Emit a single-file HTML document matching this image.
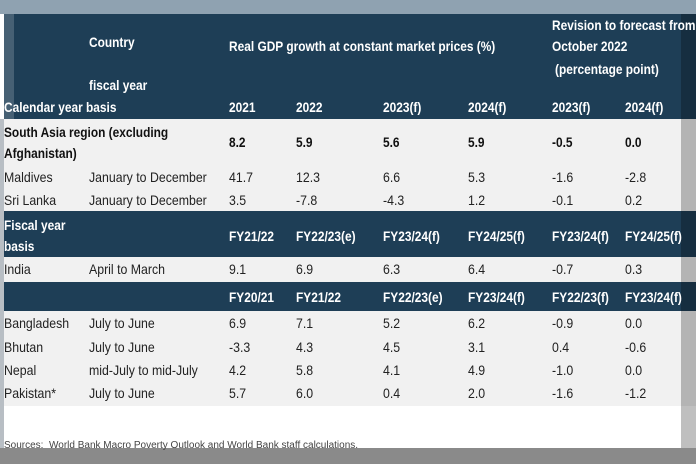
<!DOCTYPE html>
<html><head><meta charset="utf-8"><style>
body{margin:0;width:696px;height:464px;overflow:hidden;background:#fff;font-family:"Liberation Sans",sans-serif;}
.a{position:absolute;white-space:nowrap;font-size:14px;line-height:16px;color:#222;transform-origin:0 50%;transform:translateY(-50%) scaleX(0.88);}
.w{color:#fff;font-weight:bold;transform:translateY(-50%) scaleX(0.85);}
.b{font-weight:bold;color:#111;transform:translateY(-50%) scaleX(0.85);}
.r{position:absolute;}
</style></head><body>
<div class="r" style="left:0;top:0;width:696px;height:464px;background:#fff"></div>
<div class="r" style="left:4px;top:14px;width:692px;height:105px;background:#1e3e56"></div>
<div class="r" style="left:4px;top:119px;width:692px;height:287px;background:#f1f1f1"></div>
<div class="r" style="left:4px;top:211px;width:692px;height:46px;background:#1e3e56"></div>
<div class="r" style="left:4px;top:282px;width:692px;height:29px;background:#1e3e56"></div>
<div class="r" style="left:0;top:0;width:696px;height:14px;background:#8fa2b1"></div>
<div class="r" style="left:0;top:14px;width:14px;height:105px;background:rgba(255,255,255,0.18)"></div>
<div class="r" style="left:0;top:119px;width:4px;height:330px;background:#b8bec4"></div>
<div class="r" style="left:681px;top:14px;width:15px;height:435px;background:rgba(0,0,0,0.25)"></div>
<div class="r" style="left:0;top:448px;width:696px;height:16px;background:#8a8a8a"></div>

<div class="a w" style="left:89px;top:42px">Country</div>
<div class="a w" style="left:89px;top:85px">fiscal year</div>
<div class="a w" style="left:229px;top:46px">Real GDP growth at constant market prices (%)</div>
<div class="a w" style="left:552px;top:25px">Revision to forecast from</div>
<div class="a w" style="left:552px;top:46px">October 2022</div>
<div class="a w" style="left:555px;top:69px">(percentage point)</div>
<div class="a w" style="left:4px;top:107px">Calendar year basis</div>
<div class="a w" style="left:229px;top:107px">2021</div>
<div class="a w" style="left:296px;top:107px">2022</div>
<div class="a w" style="left:383px;top:107px">2023(f)</div>
<div class="a w" style="left:468px;top:107px">2024(f)</div>
<div class="a w" style="left:552px;top:107px">2023(f)</div>
<div class="a w" style="left:625px;top:107px">2024(f)</div>

<div class="a b" style="left:4px;top:132px">South Asia region (excluding</div>
<div class="a b" style="left:4px;top:153px">Afghanistan)</div>
<div class="a b" style="left:229px;top:142px">8.2</div>
<div class="a b" style="left:296px;top:142px">5.9</div>
<div class="a b" style="left:383px;top:142px">5.6</div>
<div class="a b" style="left:468px;top:142px">5.9</div>
<div class="a b" style="left:552px;top:142px">-0.5</div>
<div class="a b" style="left:625px;top:142px">0.0</div>

<div class="a" style="left:4px;top:177px">Maldives</div><div class="a" style="left:89px;top:177px">January to December</div>
<div class="a" style="left:229px;top:177px">41.7</div><div class="a" style="left:296px;top:177px">12.3</div><div class="a" style="left:383px;top:177px">6.6</div><div class="a" style="left:468px;top:177px">5.3</div><div class="a" style="left:552px;top:177px">-1.6</div><div class="a" style="left:625px;top:177px">-2.8</div>
<div class="a" style="left:4px;top:200px">Sri Lanka</div><div class="a" style="left:89px;top:200px">January to December</div>
<div class="a" style="left:229px;top:200px">3.5</div><div class="a" style="left:296px;top:200px">-7.8</div><div class="a" style="left:383px;top:200px">-4.3</div><div class="a" style="left:468px;top:200px">1.2</div><div class="a" style="left:552px;top:200px">-0.1</div><div class="a" style="left:625px;top:200px">0.2</div>

<div class="a w" style="left:4px;top:225px">Fiscal year</div>
<div class="a w" style="left:4px;top:246px">basis</div>
<div class="a w" style="left:229px;top:236px">FY21/22</div><div class="a w" style="left:296px;top:236px">FY22/23(e)</div><div class="a w" style="left:383px;top:236px">FY23/24(f)</div><div class="a w" style="left:468px;top:236px">FY24/25(f)</div><div class="a w" style="left:552px;top:236px">FY23/24(f)</div><div class="a w" style="left:625px;top:236px">FY24/25(f)</div>

<div class="a" style="left:4px;top:269px">India</div><div class="a" style="left:89px;top:269px">April to March</div>
<div class="a" style="left:229px;top:269px">9.1</div><div class="a" style="left:296px;top:269px">6.9</div><div class="a" style="left:383px;top:269px">6.3</div><div class="a" style="left:468px;top:269px">6.4</div><div class="a" style="left:552px;top:269px">-0.7</div><div class="a" style="left:625px;top:269px">0.3</div>

<div class="a w" style="left:229px;top:297px">FY20/21</div><div class="a w" style="left:296px;top:297px">FY21/22</div><div class="a w" style="left:383px;top:297px">FY22/23(e)</div><div class="a w" style="left:468px;top:297px">FY23/24(f)</div><div class="a w" style="left:552px;top:297px">FY22/23(f)</div><div class="a w" style="left:625px;top:297px">FY23/24(f)</div>

<div class="a" style="left:4px;top:323px">Bangladesh</div><div class="a" style="left:89px;top:323px">July to June</div>
<div class="a" style="left:229px;top:323px">6.9</div><div class="a" style="left:296px;top:323px">7.1</div><div class="a" style="left:383px;top:323px">5.2</div><div class="a" style="left:468px;top:323px">6.2</div><div class="a" style="left:552px;top:323px">-0.9</div><div class="a" style="left:625px;top:323px">0.0</div>
<div class="a" style="left:4px;top:347px">Bhutan</div><div class="a" style="left:89px;top:347px">July to June</div>
<div class="a" style="left:229px;top:347px">-3.3</div><div class="a" style="left:296px;top:347px">4.3</div><div class="a" style="left:383px;top:347px">4.5</div><div class="a" style="left:468px;top:347px">3.1</div><div class="a" style="left:552px;top:347px">0.4</div><div class="a" style="left:625px;top:347px">-0.6</div>
<div class="a" style="left:4px;top:370px">Nepal</div><div class="a" style="left:89px;top:370px">mid-July to mid-July</div>
<div class="a" style="left:229px;top:370px">4.2</div><div class="a" style="left:296px;top:370px">5.8</div><div class="a" style="left:383px;top:370px">4.1</div><div class="a" style="left:468px;top:370px">4.9</div><div class="a" style="left:552px;top:370px">-1.0</div><div class="a" style="left:625px;top:370px">0.0</div>
<div class="a" style="left:4px;top:393px">Pakistan*</div><div class="a" style="left:89px;top:393px">July to June</div>
<div class="a" style="left:229px;top:393px">5.7</div><div class="a" style="left:296px;top:393px">6.0</div><div class="a" style="left:383px;top:393px">0.4</div><div class="a" style="left:468px;top:393px">2.0</div><div class="a" style="left:552px;top:393px">-1.6</div><div class="a" style="left:625px;top:393px">-1.2</div>

<div class="a" style="left:4px;top:446px;font-size:10px;color:#444;transform:translateY(-50%)">Sources:&nbsp; World Bank Macro Poverty Outlook and World Bank staff calculations.</div>
</body></html>
